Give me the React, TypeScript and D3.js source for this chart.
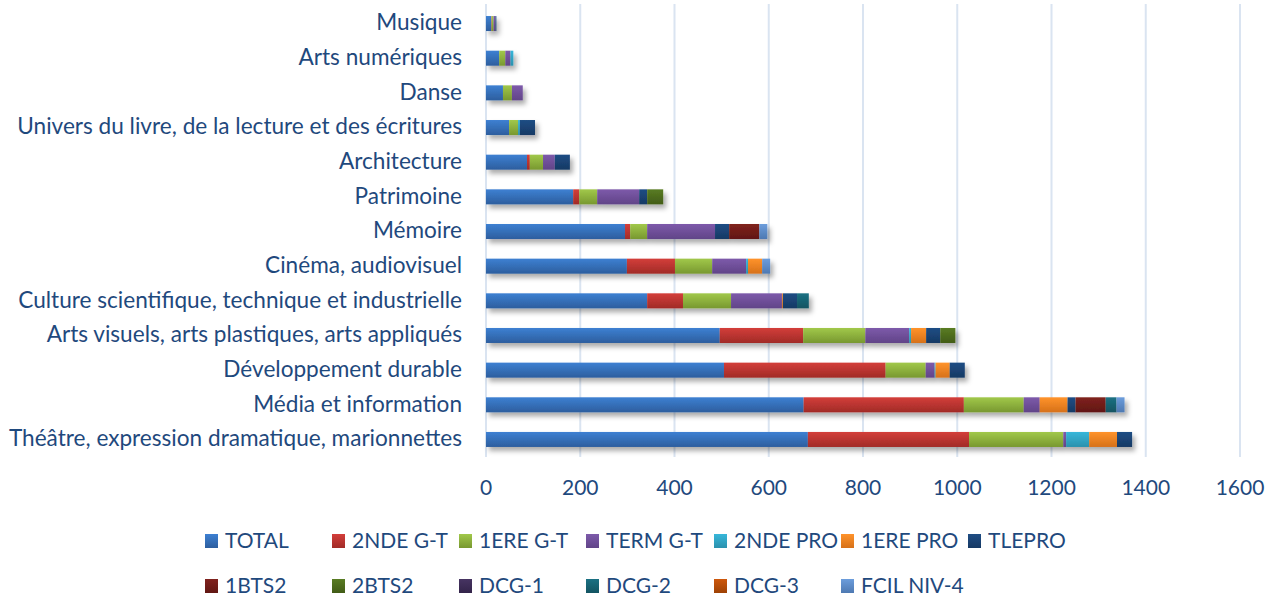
import React from "react";
import * as d3 from "d3";

const categories = [
  "Musique",
  "Arts numériques",
  "Danse",
  "Univers du livre, de la lecture et des écritures",
  "Architecture",
  "Patrimoine",
  "Mémoire",
  "Cinéma, audiovisuel",
  "Culture scientifique, technique et industrielle",
  "Arts visuels, arts plastiques, arts appliqués",
  "Développement durable",
  "Média et information",
  "Théâtre, expression dramatique, marionnettes",
];

const seriesNames = [
  "TOTAL", "2NDE G-T", "1ERE G-T", "TERM G-T", "2NDE PRO", "1ERE PRO", "TLEPRO",
  "1BTS2", "2BTS2", "DCG-1", "DCG-2", "DCG-3", "FCIL NIV-4",
];

const total = [11, 28, 36, 49, 87, 185, 295, 299, 342, 496, 505, 674, 683];
const secondeGT = [1, 0, 0, 0, 6, 13, 11, 102, 76, 177, 343, 340, 342];
const premiereGT = [4, 13, 19, 19, 28, 38, 36, 79, 102, 132, 85, 127, 200];
const termGT = [4, 11, 23, 0, 25, 89, 144, 72, 108, 93, 19, 34, 6];
const secondePro = [0, 6, 0, 4, 0, 0, 0, 4, 0, 4, 2, 0, 49];
const premierePro = [0, 0, 0, 0, 0, 0, 0, 30, 2, 32, 30, 59, 59];
const tlePro = [2, 0, 0, 32, 32, 17, 30, 0, 30, 30, 32, 17, 32];
const bts1 = [0, 0, 0, 0, 0, 0, 64, 0, 0, 0, 0, 64, 0];
const bts2 = [0, 0, 0, 0, 0, 34, 0, 0, 0, 32, 0, 0, 0];
const dcg1 = [0, 0, 0, 0, 0, 0, 0, 0, 0, 0, 0, 0, 0];
const dcg2 = [0, 0, 0, 0, 0, 0, 0, 0, 25, 0, 0, 23, 0];
const dcg3 = [0, 0, 0, 0, 0, 0, 0, 0, 0, 0, 0, 0, 0];
const fcil = [0, 0, 0, 0, 0, 0, 17, 17, 0, 0, 0, 17, 0];

const seriesValues = [total, secondeGT, premiereGT, termGT, secondePro, premierePro, tlePro, bts1, bts2, dcg1, dcg2, dcg3, fcil];

const xTicks = [0, 200, 400, 600, 800, 1000, 1200, 1400, 1600];

const topColors = ["#3D80D2", "#D33E3A", "#A1C84A", "#7D5AAA", "#37B7DA", "#FF932B", "#1F4D84", "#80221E", "#597C23", "#473462", "#1B7183", "#CE580C", "#6C9DDC"];
const bottomColors = ["#2D5E9E", "#A12B27", "#789830", "#614488", "#2B91AD", "#D67119", "#163964", "#611713", "#425C17", "#33244A", "#135461", "#9E4205", "#4E79B2"];

const W = 1266;
const H = 596;
const FONT = "Lato, 'Open Sans', sans-serif";
const TEXT = "#1F497D";

export default function App() {
  const x = d3.scaleLinear().domain([0, 1600]).range([486, 1240]);
  const y = d3
    .scaleBand<string>()
    .domain(categories)
    .range([6.2, 456.8])
    .paddingInner(0.567)
    .paddingOuter(0.2835);

  const rows = categories.map((c, i) => {
    const obj: Record<string, number | string> = { category: c };
    seriesNames.forEach((s, k) => (obj[s] = seriesValues[k][i]));
    return obj;
  });
  const stacked = d3.stack<any>().keys(seriesNames)(rows);

  const legendCols = [205, 332, 459, 586, 714, 841, 968];
  const legendRows = [548, 593];

  return (
    <svg
      width={W}
      height={H}
      style={{ position: "absolute", left: 0, top: 0, display: "block", background: "#fff" }}
      fontFamily={FONT}
    >
      <defs>
        {seriesNames.map((s, k) => (
          <linearGradient key={s} id={`g${k}`} x1="0" y1="0" x2="0" y2="1">
            <stop offset="0" stopColor={topColors[k]} />
            <stop offset="1" stopColor={bottomColors[k]} />
          </linearGradient>
        ))}
        <filter id="shadow" x="-5%" y="-20%" width="115%" height="180%">
          <feDropShadow dx="3" dy="4" stdDeviation="2.6" floodColor="#000" floodOpacity="0.33" />
        </filter>
      </defs>

      {xTicks.map((t) => (
        <line
          key={t}
          x1={x(t)}
          x2={x(t)}
          y1={4}
          y2={457}
          stroke="#DAE4F1"
          strokeWidth={2}
        />
      ))}

      <g filter="url(#shadow)">
        {stacked.map((layer, k) =>
          layer.map((d, i) => {
            const w = x(d[1]) - x(d[0]);
            if (w <= 0) return null;
            return (
              <rect
                key={`${k}-${i}`}
                x={x(d[0])}
                y={y(categories[i])}
                width={w}
                height={y.bandwidth()}
                fill={`url(#g${k})`}
              />
            );
          })
        )}
      </g>

      {categories.map((c) => (
        <text
          key={c}
          x={462}
          y={(y(c) as number) + y.bandwidth() / 2}
          dy="0.3em"
          textAnchor="end"
          fontSize={22.6}
          fill={TEXT}
        >
          {c}
        </text>
      ))}

      {xTicks.map((t) => (
        <text key={t} x={x(t)} y={495} textAnchor="middle" fontSize={21} fill={TEXT}>
          {t}
        </text>
      ))}

      {seriesNames.map((s, k) => {
        const col = k % 7;
        const row = Math.floor(k / 7);
        const lx = legendCols[col];
        const ly = legendRows[row];
        return (
          <g key={s}>
            <rect x={lx} y={ly - 14} width={13} height={14} fill={`url(#g${k})`} />
            <text x={lx + 20} y={ly} fontSize={21} fill={TEXT}>
              {s}
            </text>
          </g>
        );
      })}
    </svg>
  );
}
